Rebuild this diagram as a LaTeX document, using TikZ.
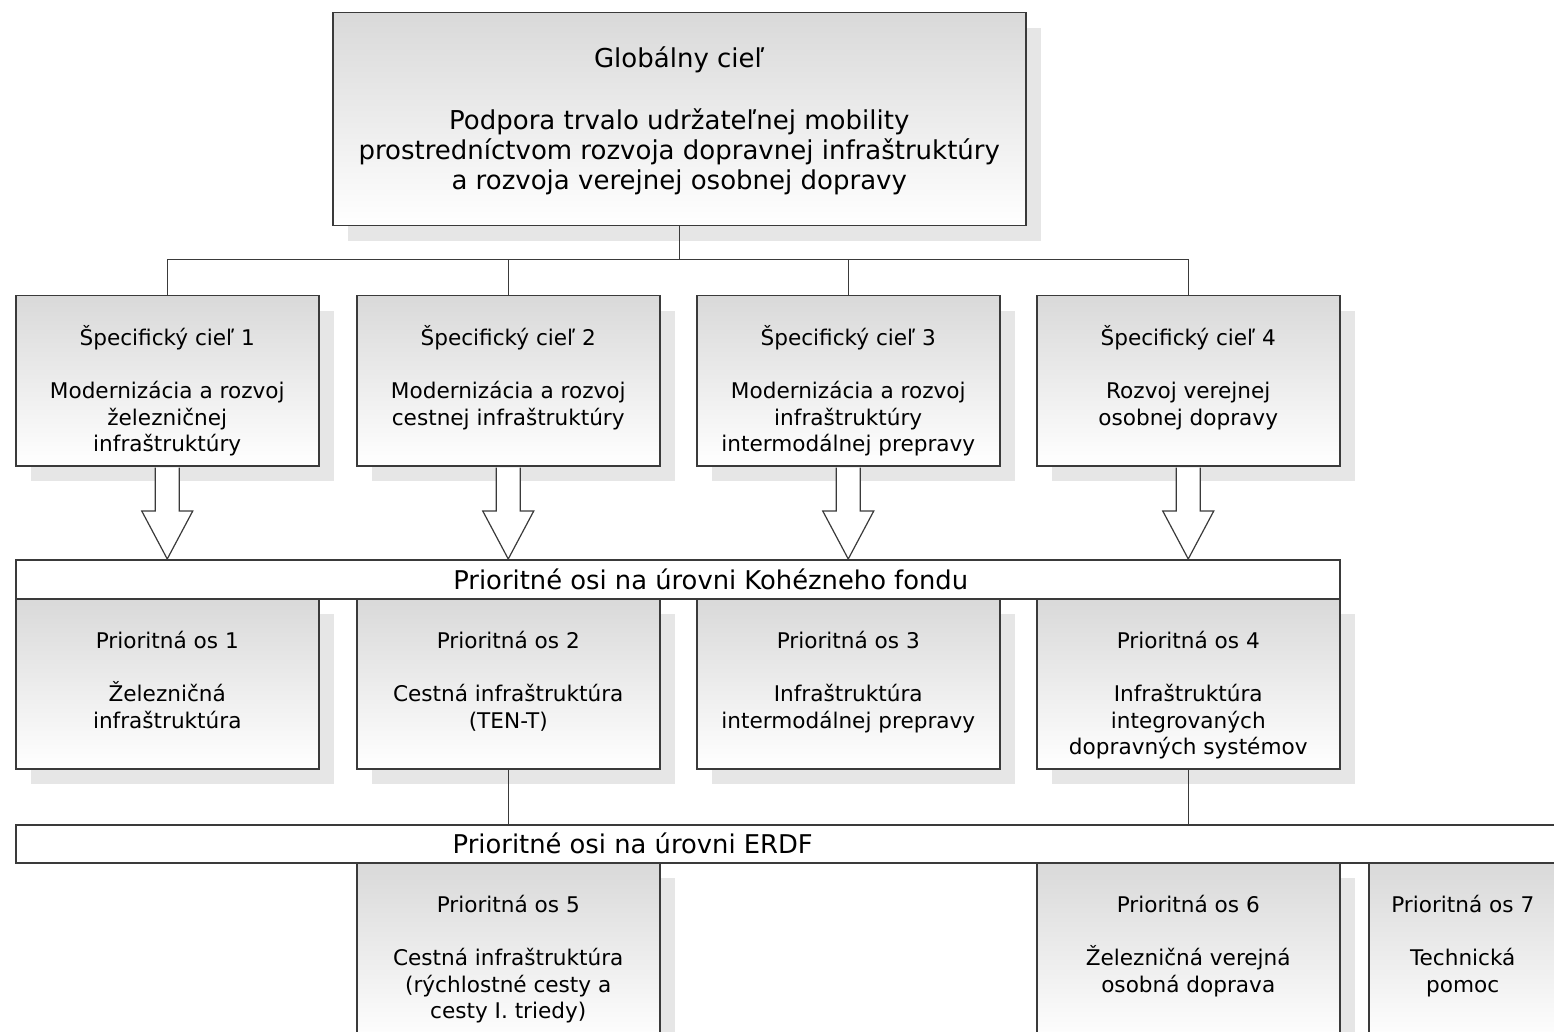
\documentclass[tikz,border=0pt]{standalone}
\usepackage{fontspec}
\setmainfont{DejaVu Sans}
\usetikzlibrary{calc,shadows}
\definecolor{linegray}{HTML}{3A3A3A}
\definecolor{boxtop}{HTML}{D9D9D9}
\definecolor{shadowgray}{HTML}{E6E6E6}

\begin{document}
\begin{tikzpicture}[x=0.5pt,y=-0.5pt,
	conn/.style={draw=linegray, line width=0.6pt},
	bigarrow/.style={draw=linegray, line width=0.6pt, fill=white},
	boxbase/.style={draw=linegray, line width=0.75pt, top color=boxtop, bottom color=white,
		inner sep=0pt, anchor=north west,
		drop shadow={shadow xshift=7.5pt, shadow yshift=-7.5pt, fill=shadowgray, opacity=1}},
	goalbox/.style 2 args={boxbase, minimum width=#1, minimum height=#2,
		font=\fontsize{13}{15}\selectfont,
		execute at begin node={\begin{minipage}[c][#2][t]{#1}\centering\rule{0pt}{27.2pt}},
		execute at end node={\end{minipage}}},
	panel/.style 2 args={boxbase, minimum width=#1, minimum height=#2,
		font=\fontsize{10.8}{13.3}\selectfont,
		execute at begin node={\begin{minipage}[c][#2][t]{#1}\centering\rule{0pt}{24.9pt}},
		execute at end node={\end{minipage}}},
	band/.style={draw=linegray, line width=0.75pt, fill=white, inner sep=0pt,
		anchor=north west, font=\fontsize{12.9}{15}\selectfont}]
	%%% Frame
	\useasboundingbox (0,0) rectangle (1554,1032);
	\clip (0,0) rectangle (1554,1032);
	%%% Global goal
	\node [goalbox={346.5pt}{106.5pt}] (g) at (332,12) {Globálny cieľ\\[16pt]
		Podpora trvalo udržateľnej mobility\\
		prostredníctvom rozvoja dopravnej infraštruktúry\\
		a rozvoja verejnej osobnej dopravy};
	%%% Specific goals
	\node [panel={151.5pt}{85pt}] (s1) at (15,295) {Špecifický cieľ 1\\[13.2pt]
		Modernizácia a rozvoj\\železničnej\\infraštruktúry};
	\node [panel={151.5pt}{85pt}] (s2) at (356,295) {Špecifický cieľ 2\\[13.2pt]
		Modernizácia a rozvoj\\cestnej infraštruktúry};
	\node [panel={151.5pt}{85pt}] (s3) at (696,295) {Špecifický cieľ 3\\[13.2pt]
		Modernizácia a rozvoj\\infraštruktúry\\intermodálnej prepravy};
	\node [panel={151.5pt}{85pt}] (s4) at (1036,295) {Špecifický cieľ 4\\[13.2pt]
		Rozvoj verejnej\\osobnej dopravy};
	\foreach \n in {s1,s2,s3,s4}
		\draw [conn] (g.south) -- ++(0,33) -| (\n.north);
	%%% Cohesion fund band
	\node [band, minimum width=662pt, minimum height=19.5pt] (kf) at (15,559)
		{\hspace*{33pt}Prioritné osi na úrovni Kohézneho fondu};
	\foreach \n in {s1,s2,s3,s4}
		\draw [bigarrow] ($(\n.south)+(-12,1)$) -- ($(\n.south |- kf.north)+(-12,-48)$)
			-- ++(-13.5,0) -- (\n.south |- kf.north) -- ++(25.5,-48)
			-- ++(-13.5,0) -- ($(\n.south)+(12,1)$);
	%%% Priority axes 1-4
	\node [panel={151.5pt}{85pt}] (p1) at (15,598) {Prioritná os 1\\[13.2pt]
		Železničná\\infraštruktúra};
	\node [panel={151.5pt}{85pt}] (p2) at (356,598) {Prioritná os 2\\[13.2pt]
		Cestná infraštruktúra\\(TEN-T)};
	\node [panel={151.5pt}{85pt}] (p3) at (696,598) {Prioritná os 3\\[13.2pt]
		Infraštruktúra\\intermodálnej prepravy};
	\node [panel={151.5pt}{85pt}] (p4) at (1036,598) {Prioritná os 4\\[13.2pt]
		Infraštruktúra\\integrovaných\\dopravných systémov};
	%%% ERDF band
	\node [band, minimum width=782.5pt, minimum height=19pt] (erdf) at (15,824)
		{Prioritné osi na úrovni ERDF\hspace*{165.5pt}};
	\draw [conn] (p2.south) -- (p2.south |- erdf.north);
	\draw [conn] (p4.south) -- (p4.south |- erdf.north);
	%%% Priority axes 5-7
	\node [panel={151.5pt}{90pt}] (p5) at (356,862) {Prioritná os 5\\[13.2pt]
		Cestná infraštruktúra\\(rýchlostné cesty a\\cesty I. triedy)};
	\node [panel={151.5pt}{90pt}] (p6) at (1036,862) {Prioritná os 6\\[13.2pt]
		Železničná verejná\\osobná doprava};
	\node [panel={94pt}{90pt}] (p7) at (1368,862) {Prioritná os 7\\[13.2pt]
		Technická\\pomoc};
\end{tikzpicture}
\end{document}
